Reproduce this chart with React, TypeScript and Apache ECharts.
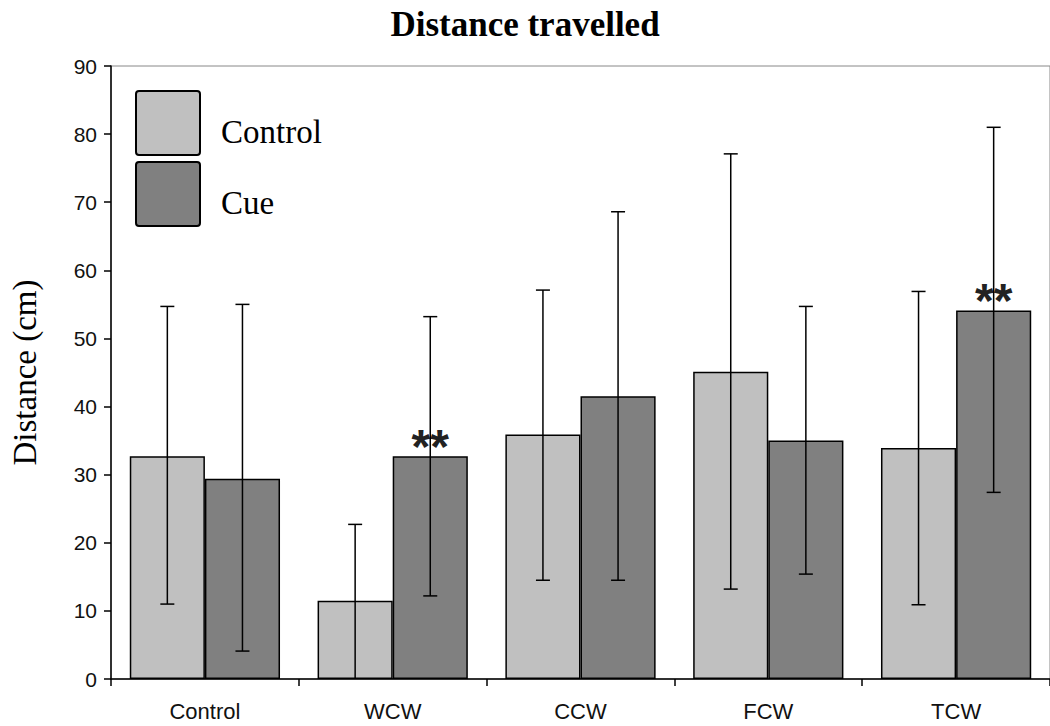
import React, { useEffect, useRef } from "react";
import * as echarts from "echarts";

const categories = ["Control", "WCW", "CCW", "FCW", "TCW"];
const controlMeans = [32.7, 11.5, 35.9, 45.1, 33.9];
const controlLow = [11.0, 0, 14.5, 13.2, 10.9];
const controlHigh = [54.7, 22.7, 57.1, 77.1, 56.9];
const cueMeans = [29.4, 32.7, 41.5, 35.0, 54.1];
const cueLow = [4.1, 12.2, 14.5, 15.4, 27.4];
const cueHigh = [55.0, 53.2, 68.6, 54.7, 81.0];
const significance = ["", "**", "", "", "**"];
const yTicks = [0, 10, 20, 30, 40, 50, 60, 70, 80, 90];

function errorSeries(name: string, low: number[], high: number[], sign: number) {
  return {
    type: "custom",
    name: name + "-err",
    z: 10,
    silent: true,
    data: low.map((l, i) => [i, l, high[i]]),
    renderItem: (params: any, api: any) => {
      const band = api.size([1, 0])[0];
      const idx = api.value(0);
      const lo = api.coord([idx, api.value(1)]);
      const hi = api.coord([idx, api.value(2)]);
      const x = lo[0] + sign * band * 0.2;
      const cap = 7;
      const style = { stroke: "#000", lineWidth: 1.5 };
      const children: any[] = [
        { type: "line", shape: { x1: x, y1: lo[1], x2: x, y2: hi[1] }, style },
        { type: "line", shape: { x1: x - cap, y1: hi[1], x2: x + cap, y2: hi[1] }, style },
      ];
      if (api.value(1) > 0) {
        children.push({ type: "line", shape: { x1: x - cap, y1: lo[1], x2: x + cap, y2: lo[1] }, style });
      }
      return { type: "group", children };
    },
  };
}

export default function App() {
  const ref = useRef<HTMLDivElement>(null);
  useEffect(() => {
    if (!ref.current) return;
    const chart = echarts.init(ref.current, undefined, { renderer: "svg" });
    const sans = "'Liberation Sans', Arial, sans-serif";
    const serif = "'Liberation Serif', 'Times New Roman', serif";
    chart.setOption({
      animation: false,
      backgroundColor: "#fff",
      title: {
        text: "Distance travelled",
        left: "center",
        top: 2,
        textStyle: { fontFamily: serif, fontSize: 35, fontWeight: "bold", color: "#000" },
      },
      legend: {
        data: ["Control", "Cue"],
        orient: "vertical",
        left: 135,
        top: 90,
        itemWidth: 64,
        itemHeight: 64,
        itemGap: 5,
        padding: 0,
        icon: "path://M3,0 H61 Q64,0 64,3 V61 Q64,64 61,64 H3 Q0,64 0,61 V3 Q0,0 3,0 Z",
        formatter: "{t|{name}}",
        textStyle: {
          fontFamily: serif,
          fontSize: 33,
          color: "#000",
          rich: {
            t: { fontFamily: serif, fontSize: 33, color: "#000", padding: [18, 0, 0, 16] },
          },
        },
      },
      grid: {
        left: 110,
        right: 0,
        top: 66,
        bottom: 47,
        show: true,
        borderColor: "#888",
        borderWidth: 1,
      },
      xAxis: {
        type: "category",
        data: categories,
        axisLine: { lineStyle: { color: "#000", width: 1.5 } },
        axisTick: { show: true, length: 7, lineStyle: { color: "#000", width: 1.5 } },
        axisLabel: { fontFamily: sans, fontSize: 22, color: "#111", margin: 21 },
      },
      yAxis: {
        type: "value",
        min: 0,
        max: 90,
        interval: 10,
        name: "Distance (cm)",
        nameLocation: "middle",
        nameGap: 70,
        nameTextStyle: { fontFamily: serif, fontSize: 33, color: "#000" },
        axisLine: { show: true, lineStyle: { color: "#000", width: 1.5 } },
        axisTick: { show: true, length: 7, lineStyle: { color: "#000", width: 1.5 } },
        axisLabel: {
          fontFamily: sans,
          fontSize: 21,
          color: "#111",
          margin: 14,
          formatter: (v: number) => (yTicks.includes(v) ? String(v) : ""),
        },
        splitLine: { show: false },
      },
      series: [
        {
          type: "bar",
          name: "Control",
          data: controlMeans,
          barGap: "0%",
          barCategoryGap: "20%",
          itemStyle: { color: "#c0c0c0", borderColor: "#000", borderWidth: 1.5 },
        },
        {
          type: "bar",
          name: "Cue",
          data: cueMeans.map((v, i) => ({
            value: v,
            label: {
              show: significance[i] !== "",
              formatter: significance[i],
              position: "top",
              distance: -14,
              fontFamily: sans,
              fontSize: 48,
              fontWeight: "bold",
              color: "#222",
            },
          })),
          barGap: "0%",
          barCategoryGap: "20%",
          itemStyle: { color: "#808080", borderColor: "#000", borderWidth: 1.5 },
        },
        errorSeries("Control", controlLow, controlHigh, -1),
        errorSeries("Cue", cueLow, cueHigh, 1),
      ],
    });
    return () => chart.dispose();
  }, []);
  return (
    <div
      ref={ref}
      style={{ position: "fixed", left: 0, top: 0, width: 1050, height: 726 }}
    />
  );
}
